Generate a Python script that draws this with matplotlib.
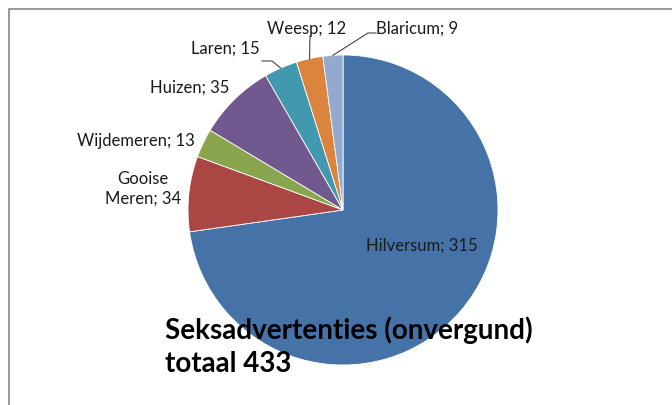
import numpy as np
import matplotlib
matplotlib.use("Agg")
import matplotlib.pyplot as plt
from matplotlib.patches import Rectangle

# data
gemeenten = ["Hilversum", "Gooise\nMeren", "Wijdemeren", "Huizen", "Laren", "Weesp", "Blaricum"]
aantallen = [315, 34, 13, 35, 15, 12, 9]
kleuren = ["#4572A7", "#AA4643", "#89A54E", "#71588F", "#4198AF", "#DB843D", "#93A9CF"]
titel = "Seksadvertenties (onvergund)\ntotaal 433"

W, H = 672, 406
cx, cy, R = 343, 211, 155  # pie centre / radius in pixels

fig = plt.figure(figsize=(W / 100, H / 100), dpi=100)
fig.patch.set_facecolor("white")
ax = fig.add_axes([(cx - R) / W, (H - cy - R) / H, 2 * R / W, 2 * R / H])
wedges, _ = ax.pie(aantallen, colors=kleuren, startangle=90, counterclock=False,
                   radius=1, wedgeprops=dict(linewidth=0.6, edgecolor="white"))
ax.set_xlim(-1, 1)
ax.set_ylim(-1, 1)
ax.set_aspect("equal")
ax.axis("off")


def px(x, y):
    # pixel position -> data coords of the pie axes
    return (x - cx) / R, (cy - y) / R


def rand(w):
    # point on the rim at the middle of a wedge
    a = np.deg2rad((w.theta1 + w.theta2) / 2)
    return np.cos(a), np.sin(a)


fnt = dict(family="Lato", fontsize=12, color="#1a1a1a")
# label anchor (pixels) and alignment
plaats = [
    (422, 246, "center"),
    (143, 189, "center"),
    (195, 141, "right"),
    (229, 88, "right"),
    (260, 49, "right"),
    (307, 29, "center"),
    (376, 29, "left"),
]
for naam, n, (x, y, ha) in zip(gemeenten, aantallen, plaats):
    tx, ty = px(x, y)
    ax.text(tx, ty, f"{naam}; {n}", ha=ha, va="center", linespacing=1.25,
            clip_on=False, **fnt)

# leader lines
lijn = dict(color="#444444", lw=0.8, clip_on=False)
rx, ry = rand(wedges[4])
p1, p2 = px(262, 62), px(272, 62)
ax.plot([p1[0], p2[0], rx], [p1[1], p2[1], ry], **lijn)
rx, ry = rand(wedges[5])
p1 = px(310, 37)
ax.plot([p1[0], rx], [p1[1], ry], **lijn)
rx, ry = rand(wedges[6])
p1, p2 = px(376, 34), px(368, 34)
ax.plot([p1[0], p2[0], rx], [p1[1], p2[1], ry], **lijn)

fig.text(165 / W, 1 - 347 / H, titel, ha="left", va="center", family="Lato",
         fontweight="bold", fontsize=20, linespacing=1.35, color="black")

fig.add_artist(Rectangle((8.5 / W, -0.2), 2, (H - 9.5) / H + 0.2, transform=fig.transFigure,
                         fill=False, edgecolor="#868686", lw=1.2))

fig.savefig("out.png", dpi=100, facecolor="white")
